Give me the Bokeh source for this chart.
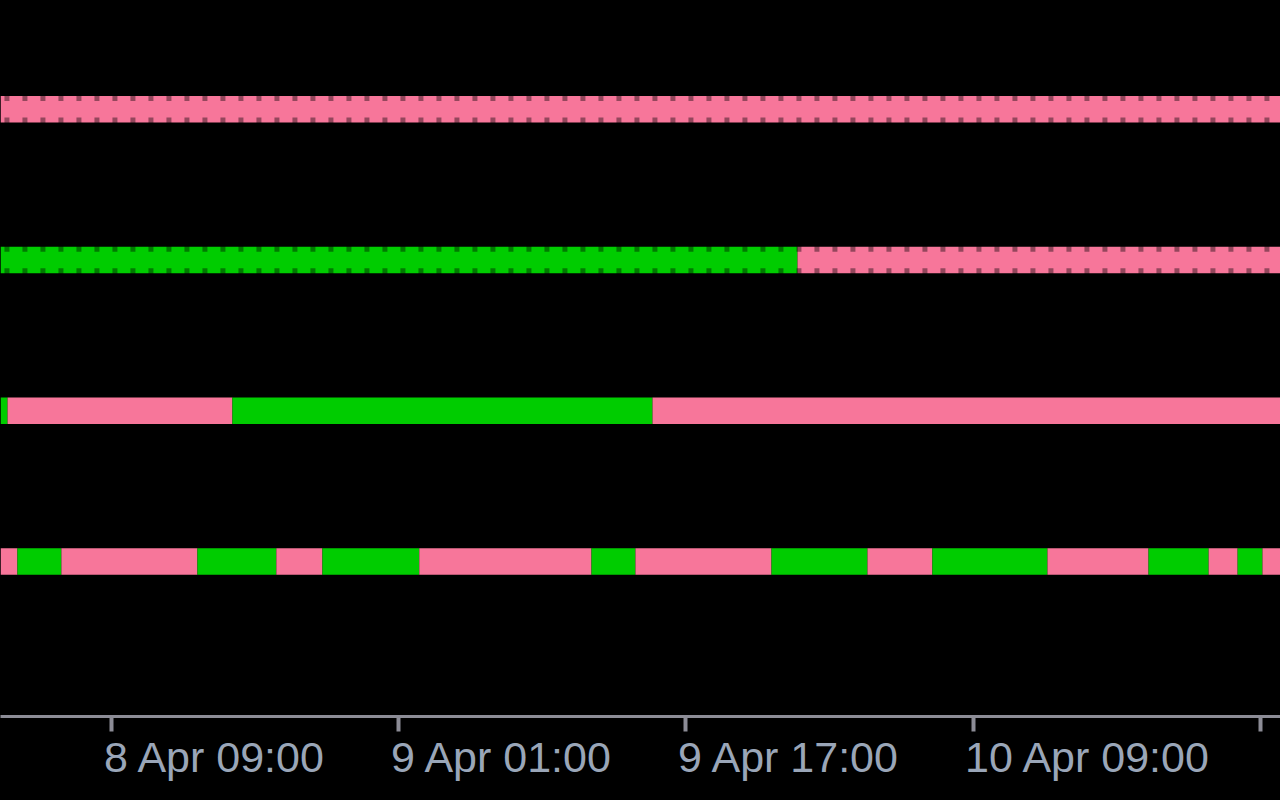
import pandas as pd
from bokeh.plotting import figure
from bokeh.models import (Range1d, FixedTicker, CustomJSTickFormatter,
                          ColumnDataSource, DatetimeAxis)
from bokeh.embed import file_html
from bokeh.resources import INLINE

# ---------------- data ----------------
ROW_NAMES = ["Row 1", "Row 2", "Row 3", "Row 4"]

ROW1_BOUNDS = ["2024-04-08 00:00", "2024-04-11 06:00"]
ROW1_STATES = ["down"]

ROW2_BOUNDS = ["2024-04-08 00:00", "2024-04-09 23:13", "2024-04-11 06:00"]
ROW2_STATES = ["up", "down"]

ROW3_BOUNDS = ["2024-04-08 00:00", "2024-04-08 03:11", "2024-04-08 15:43",
               "2024-04-09 15:08", "2024-04-11 06:00"]
ROW3_STATES = ["up", "down", "up", "down"]

ROW4_BOUNDS = ["2024-04-08 00:00", "2024-04-08 03:44", "2024-04-08 06:11",
               "2024-04-08 13:46", "2024-04-08 18:10", "2024-04-08 20:44",
               "2024-04-09 02:08", "2024-04-09 11:44", "2024-04-09 14:11",
               "2024-04-09 21:46", "2024-04-10 03:07", "2024-04-10 06:44",
               "2024-04-10 13:09", "2024-04-10 18:47", "2024-04-10 22:08",
               "2024-04-10 23:45", "2024-04-11 01:08", "2024-04-11 06:00"]
ROW4_STATES = ["down", "up", "down", "up", "down", "up", "down", "up", "down",
               "up", "down", "up", "down", "up", "down", "up", "down"]

TICK_TIMES = ["2024-04-07 17:00", "2024-04-08 09:00", "2024-04-09 01:00",
              "2024-04-09 17:00", "2024-04-10 09:00", "2024-04-11 01:00"]
TICK_LABELS = ["7 Apr 17:00", "8 Apr 09:00", "9 Apr 01:00",
               "9 Apr 17:00", "10 Apr 09:00", "11 Apr 01:00"]

# ---------------- style / layout ----------------
STATE_COLORS = {"up": "#00CC00", "down": "#F7769A"}
DOTTED_ROWS = {0, 1}
W, H = 1280, 800
PX_PER_HOUR = 17.94
ANCHOR_TIME = pd.Timestamp("2024-04-08 09:00")
ANCHOR_PX = 111.4
X_START = ANCHOR_TIME - pd.Timedelta(hours=ANCHOR_PX / PX_PER_HOUR)
X_END = X_START + pd.Timedelta(hours=W / PX_PER_HOUR)
ROW_Y0 = 108.8      # px of first row centre
ROW_STEP = 150.75   # px between rows
FRAME_H = 716
BAND_PX = 26.5
LABEL_FONT = "Liberation Sans"
LABEL_SIZE = 43
LABEL_LEFT_PAD = 8   # label starts this many px left of its tick
AXIS_COLOR = "#8C8C96"
LABEL_COLOR = "#9AA6B8"

# Arial/Liberation Sans advance widths (em)
CHAR_W = {" ": 0.278, ":": 0.278, "A": 0.667, "p": 0.556, "r": 0.333}


def text_width(s):
    return sum(CHAR_W.get(c, 0.556) for c in s) * LABEL_SIZE


def px_to_y(py):
    return (py - ROW_Y0) / ROW_STEP


rows = [(ROW1_BOUNDS, ROW1_STATES), (ROW2_BOUNDS, ROW2_STATES),
        (ROW3_BOUNDS, ROW3_STATES), (ROW4_BOUNDS, ROW4_STATES)]

p = figure(width=W, height=H, x_axis_type="datetime",
           x_range=Range1d(X_START, X_END),
           y_range=Range1d(px_to_y(FRAME_H), px_to_y(0)),
           output_backend="svg", toolbar_location=None,
           y_axis_location=None,
           min_border=0, min_border_left=0, min_border_right=0,
           min_border_top=0, min_border_bottom=H - FRAME_H,
           background_fill_color="#000000", border_fill_color="#000000",
           outline_line_color=None)
p.styles = {"position": "absolute", "left": "0px", "top": "0px",
            "background-color": "#000000",
            "box-shadow": "0 0 0 8px #000000"}
p.xgrid.visible = False
p.ygrid.visible = False

band_h = BAND_PX / ROW_STEP
for i, (bounds, states) in enumerate(rows):
    t = pd.to_datetime(bounds)
    src = ColumnDataSource(dict(
        y=[i] * len(states),
        left=list(t[:-1]),
        right=list(t[1:]),
        color=[STATE_COLORS[s] for s in states],
        state=states,
    ))
    p.hbar(y="y", left="left", right="right", height=band_h,
           fill_color="color", line_color=None, source=src)
    if i in DOTTED_ROWS:
        for edge in (i - band_h / 2, i + band_h / 2):
            p.segment(x0=[t[0]], x1=[t[-1]], y0=[edge], y1=[edge],
                      line_color="#000000", line_alpha=0.4,
                      line_width=10, line_dash="5 13", line_cap="butt")

tick_ms = [int(pd.Timestamp(s).value // 10**6) for s in TICK_TIMES]

# main axis: line and tick marks
ax = p.xaxis[0]
ax.ticker = FixedTicker(ticks=tick_ms)
ax.formatter = CustomJSTickFormatter(code="return ''")
ax.major_label_text_font_size = "0px"
ax.major_label_standoff = 0
ax.axis_line_color = AXIS_COLOR
ax.axis_line_width = 3
ax.major_tick_line_color = AXIS_COLOR
ax.major_tick_line_width = 4
ax.major_tick_in = 0
ax.major_tick_out = 15
ax.minor_tick_line_color = None

# label axis: labels drawn left-aligned to each tick
ms_per_px = 3600_000 / PX_PER_HOUR
label_ticks = [int(round(m + (text_width(s) / 2 - LABEL_LEFT_PAD) * ms_per_px))
               for m, s in zip(tick_ms, TICK_LABELS)]
ax2 = DatetimeAxis(
    ticker=FixedTicker(ticks=label_ticks),
    major_label_overrides={k: s for k, s in zip(label_ticks, TICK_LABELS)},
    axis_line_color=None, major_tick_line_color=None,
    minor_tick_line_color=None, major_tick_in=0, major_tick_out=0,
    major_label_standoff=1,
    major_label_text_font=LABEL_FONT,
    major_label_text_font_size=f"{LABEL_SIZE}px",
    major_label_text_color=LABEL_COLOR,
)
p.add_layout(ax2, "below")

open("out.html", "w").write(file_html(p, INLINE))
